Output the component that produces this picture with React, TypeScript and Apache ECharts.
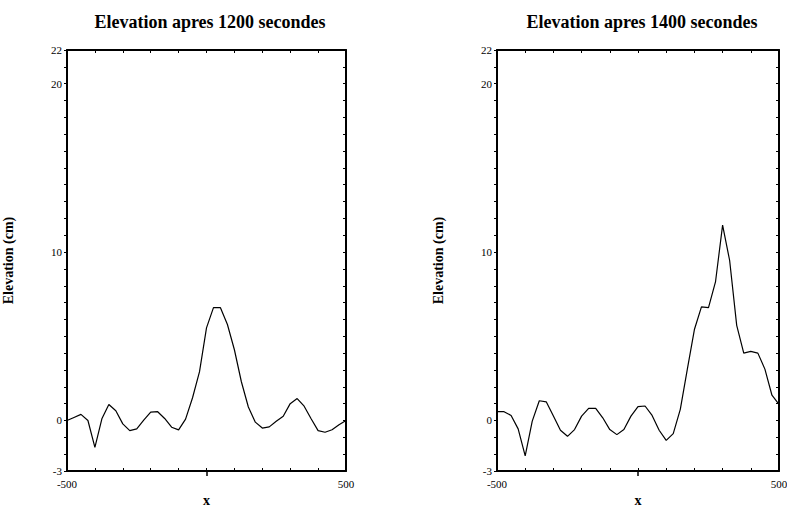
import { useEffect, useRef } from 'react';
import * as echarts from 'echarts';

const xPositions = [
  -500, -475, -450, -425, -400, -375, -350, -325, -300, -275, -250, -225, -200, -175,
  -150, -125, -100, -75, -50, -25, 0, 25, 50, 75, 100, 125, 150, 175, 200, 225, 250,
  275, 300, 325, 350, 375, 400, 425, 450, 475, 500,
];

const elev1200 = [
  0, 0.18, 0.36, 0, -1.6, 0.1, 0.95, 0.58, -0.2, -0.6, -0.5, 0.02, 0.5, 0.52,
  0.12, -0.4, -0.56, 0.08, 1.35, 2.9, 5.5, 6.7, 6.7, 5.7, 4.2, 2.3, 0.8, -0.1, -0.45,
  -0.38, -0.05, 0.25, 1.0, 1.3, 0.85, 0.1, -0.6, -0.7, -0.55, -0.25, 0,
];

const elev1400 = [
  0.52, 0.52, 0.3, -0.5, -2.1, -0.04, 1.17, 1.1, 0.26, -0.58, -0.94, -0.54, 0.26, 0.72,
  0.72, 0.16, -0.54, -0.84, -0.54, 0.26, 0.82, 0.86, 0.3, -0.58, -1.18, -0.78, 0.66, 3.05,
  5.4, 6.75, 6.7, 8.25, 11.6, 9.5, 5.65, 4.0, 4.1, 4.0, 3.05, 1.5, 0.96,
];

const panelTitles = ['Elevation apres 1200 secondes', 'Elevation apres 1400 secondes'];
const yAxisTitle = 'Elevation (cm)';
const xAxisTitle = 'x';
const yLabelValues = [-3, 0, 10, 20, 22];
const xLabelValues = [-500, 500];
const xMajorTick = [0];

export default function App() {
  const ref = useRef<HTMLDivElement>(null);

  useEffect(() => {
    const chart = echarts.init(ref.current!, null, { renderer: 'svg' });
    const font = 'Liberation Serif';
    const grids = [
      { left: 67, right: 441, top: 50, bottom: 36, outerBoundsMode: 'none', containLabel: false },
      { left: 497, right: 8, top: 50, bottom: 36, outerBoundsMode: 'none', containLabel: false },
    ];
    const titleCenters = [205, 637];
    const seriesData = [elev1200, elev1400];
    const line = { onZero: false, lineStyle: { color: '#000', width: 2 } };

    const xAxes: any[] = [];
    const yAxes: any[] = [];
    const series: any[] = [];
    grids.forEach((_, i) => {
      xAxes.push({
        type: 'value', gridIndex: i, position: 'bottom', min: -500, max: 500, interval: 100,
        axisLine: line,
        axisTick: { inside: true, length: 3, lineStyle: { color: '#000' } },
        splitLine: { show: false },
        axisLabel: {
          color: '#000', fontFamily: font, fontSize: 11, margin: 7,
          showMinLabel: true, showMaxLabel: true,
          formatter: (v: number) => (xLabelValues.includes(v) ? String(v) : ''),
        },
        name: xAxisTitle, nameLocation: 'middle', nameGap: 22,
        nameTextStyle: { color: '#000', fontFamily: font, fontSize: 14, fontWeight: 'bold' },
      });
      xAxes.push({
        type: 'value', gridIndex: i, position: 'top', min: -500, max: 500, interval: 100,
        axisLine: line,
        axisTick: { inside: true, length: 3, lineStyle: { color: '#000' } },
        splitLine: { show: false },
        axisLabel: { show: false },
      });
      xAxes.push({
        type: 'value', gridIndex: i, position: 'bottom', min: -500, max: 500,
        axisLine: { show: false, onZero: false },
        axisTick: { customValues: xMajorTick, length: 5, lineStyle: { color: '#000', width: 1.5 } },
        splitLine: { show: false },
        axisLabel: { show: false },
      });
      yAxes.push({
        type: 'value', gridIndex: i, position: 'left', min: -3, max: 22, interval: 1,
        axisLine: line,
        axisTick: { length: 3, lineStyle: { color: '#000' } },
        splitLine: { show: false },
        axisLabel: {
          color: '#000', fontFamily: font, fontSize: 11, margin: 5,
          showMinLabel: true, showMaxLabel: true,
          formatter: (v: number) => (yLabelValues.includes(v) ? String(v) : ''),
        },
        name: yAxisTitle, nameLocation: 'middle', nameGap: 52, nameRotate: 90,
        nameTextStyle: { color: '#000', fontFamily: font, fontSize: 14, fontWeight: 'bold' },
      });
      yAxes.push({
        type: 'value', gridIndex: i, position: 'right', min: -3, max: 22, interval: 1,
        axisLine: line,
        axisTick: { inside: true, length: 3, lineStyle: { color: '#000' } },
        splitLine: { show: false },
        axisLabel: { show: false },
      });
      series.push({
        type: 'line',
        xAxisIndex: 3 * i,
        yAxisIndex: 2 * i,
        data: xPositions.map((x, k) => [x, seriesData[i][k]]),
        showSymbol: false,
        symbol: 'none',
        lineStyle: { color: '#000', width: 1.2 },
      });
    });

    chart.setOption({
      animation: false,
      backgroundColor: '#fff',
      title: panelTitles.map((t, i) => ({
        text: t,
        left: titleCenters[i],
        top: 8,
        textAlign: 'center',
        textStyle: { color: '#000', fontFamily: font, fontSize: 18, fontWeight: 'bold' },
      })),
      grid: grids,
      xAxis: xAxes,
      yAxis: yAxes,
      series,
    });

    return () => chart.dispose();
  }, []);

  return (
    <div
      ref={ref}
      style={{ position: 'fixed', left: 0, top: 0, width: 787, height: 507 }}
    />
  );
}
